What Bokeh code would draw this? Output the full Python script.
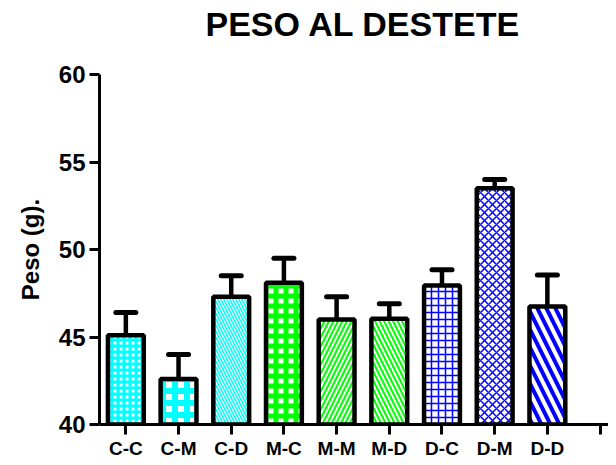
from bokeh.plotting import figure
from bokeh.models import ColumnDataSource, FixedTicker, Range1d, Title
from bokeh.embed import file_html
from bokeh.resources import INLINE

# ---- data ----
categories = ["C-C", "C-M", "C-D", "M-C", "M-M", "M-D", "D-C", "D-M", "D-D"]
means = [45.1, 42.6, 47.3, 48.1, 46.0, 46.05, 47.95, 53.5, 46.75]
sems = [1.3, 1.4, 1.2, 1.4, 1.3, 0.85, 0.9, 0.5, 1.8]
y_ticks = [40, 45, 50, 55, 60]

# ---- styles ----
patterns = ["cross", "cross", "left_diagonal_line", "cross", "right_diagonal_line",
            "left_diagonal_line", "cross", "diagonal_cross", "left_diagonal_line"]
hatch_colors = ["#00FFFF", "#00FFFF", "#00FFFF", "#00FF00", "#00FF00", "#00FF00",
                "#0000FF", "#0000FF", "#0000FF"]
hatch_scales = [6, 12, 6, 10, 9, 9, 7, 8, 18]
hatch_weights = [3, 6, 1.5, 5, 2, 2, 1.5, 1.5, 4]

xs = list(range(len(categories)))
tops = [m + s for m, s in zip(means, sems)]
source = ColumnDataSource(dict(
    x=xs, top=means, err=tops, pattern=patterns, hcolor=hatch_colors,
    hscale=hatch_scales, hweight=hatch_weights,
))

FONT = "Liberation Sans"

p = figure(width=608, height=462, output_backend="svg", toolbar_location=None,
           x_range=Range1d(-0.5, 9.16), y_range=Range1d(40, 60),
           min_border_left=99, min_border_right=0, min_border_top=74,
           min_border_bottom=38, tools="")
p.outline_line_color = None
p.xgrid.visible = False
p.ygrid.visible = False
p.background_fill_color = "white"
p.border_fill_color = "white"

# spacer between title and plot frame (first added sits closest to the frame)
spacer = Title(text=" ", text_font=FONT, text_font_size="16px", standoff=10)
p.add_layout(spacer, "above")
title = Title(text="PESO AL DESTETE", align="left", offset=106,
              vertical_align="top",
              text_font=FONT, text_font_size="34px", text_font_style="bold",
              text_color="black", standoff=2)
p.add_layout(title, "above")

# error bars (upper only)
p.segment(x0="x", y0="top", x1="x", y1="err", source=source,
          line_color="black", line_width=4.5)
p.segment(x0=[x - 0.19 for x in xs], y0=tops, x1=[x + 0.19 for x in xs], y1=tops,
          line_color="black", line_width=5, line_cap="round")

p.vbar(x="x", top="top", bottom=40, width=0.68, source=source,
       fill_color="white", line_color="black", line_width=4.5,
       hatch_pattern="pattern", hatch_color="hcolor", hatch_scale="hscale",
       hatch_weight="hweight")

# axes
for ax in (p.xaxis[0], p.yaxis[0]):
    ax.axis_line_width = 3
    ax.axis_line_color = "black"
    ax.major_tick_line_width = 3
    ax.major_tick_line_color = "black"
    ax.major_tick_in = 0
    ax.major_tick_out = 10
    ax.minor_tick_line_color = None
    ax.major_label_text_font = FONT
    ax.major_label_text_font_style = "bold"
    ax.major_label_text_color = "black"

p.xaxis.ticker = FixedTicker(ticks=list(range(len(categories) + 1)))
overrides = {i: c for i, c in enumerate(categories)}
overrides[len(categories)] = ""
p.xaxis.major_label_overrides = overrides
p.xaxis.major_label_text_font_size = "19px"
p.xaxis.major_label_standoff = 3

p.yaxis.ticker = FixedTicker(ticks=y_ticks)
p.yaxis.major_label_text_font_size = "24px"
p.yaxis.major_label_standoff = 4
p.yaxis.axis_label = "Peso (g)."
p.yaxis.axis_label_text_font = FONT
p.yaxis.axis_label_text_font_size = "24px"
p.yaxis.axis_label_text_font_style = "bold"
p.yaxis.axis_label_text_color = "black"
p.yaxis.axis_label_standoff = 12

open("out.html", "w").write(file_html(p, INLINE))
